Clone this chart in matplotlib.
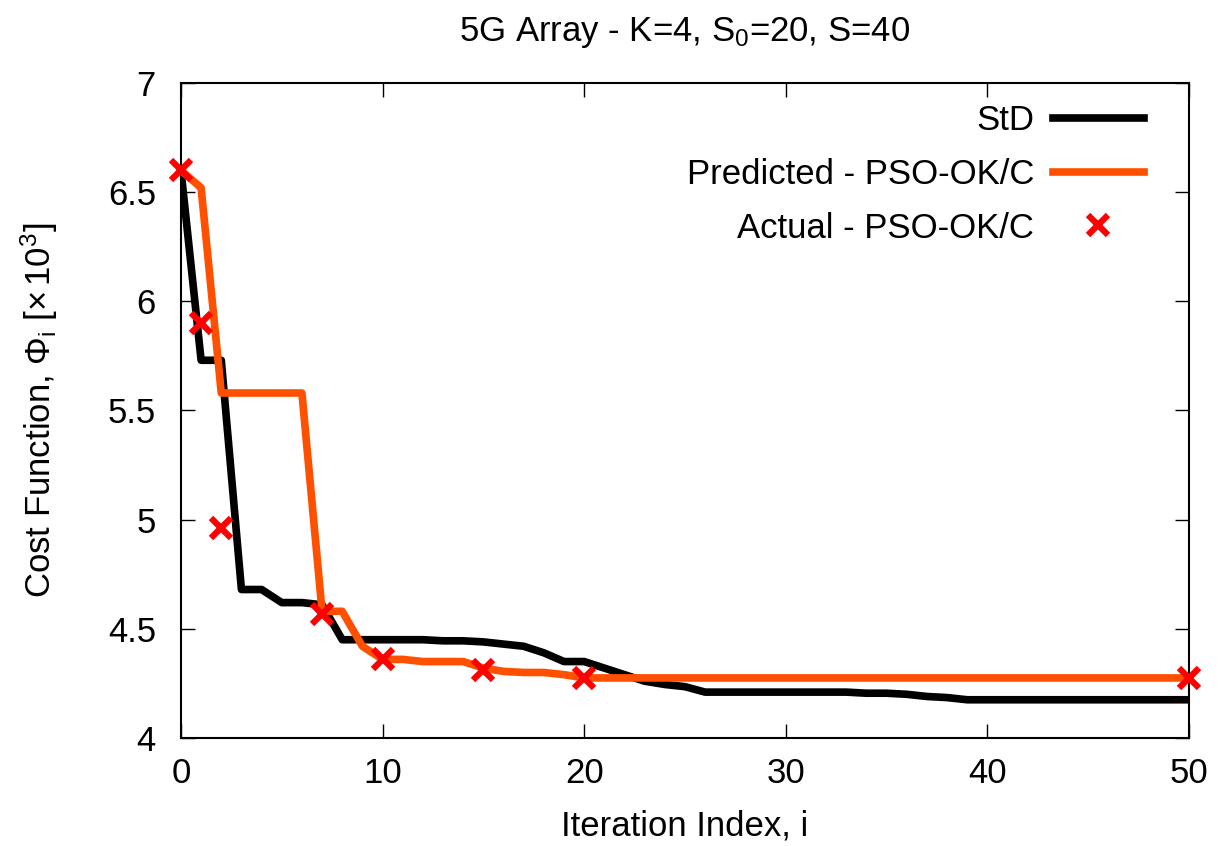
import matplotlib
matplotlib.use("Agg")
import matplotlib.pyplot as plt

# data
iters = list(range(0, 51))
std_cost = [6.60, 5.73, 5.73, 4.68, 4.68, 4.62, 4.62, 4.61, 4.45, 4.45,
            4.45, 4.45, 4.45, 4.445, 4.445, 4.44, 4.43, 4.42, 4.39, 4.35,
            4.35, 4.32, 4.29, 4.26, 4.245, 4.235, 4.21, 4.21, 4.21, 4.21,
            4.21, 4.21, 4.21, 4.21, 4.205, 4.205, 4.20, 4.19, 4.185, 4.175,
            4.175, 4.175, 4.175, 4.175, 4.175, 4.175, 4.175, 4.175, 4.175, 4.175,
            4.175]
pred_cost = [6.60, 6.52, 5.58, 5.58, 5.58, 5.58, 5.58, 4.58, 4.58, 4.42,
             4.36, 4.36, 4.35, 4.35, 4.35, 4.32, 4.305, 4.30, 4.30, 4.29] + [4.275] * 31
act_iters = [0, 1, 2, 7, 10, 15, 20, 50]
act_cost = [6.60, 5.90, 4.96, 4.57, 4.36, 4.31, 4.275, 4.275]

plt.rcParams['font.family'] = ['Liberation Sans', 'DejaVu Sans']
plt.rcParams['mathtext.fontset'] = 'custom'
plt.rcParams['mathtext.rm'] = 'Liberation Sans'
plt.rcParams['mathtext.it'] = 'Liberation Sans:italic'
plt.rcParams['mathtext.sf'] = 'Liberation Sans'

fs = 25

fig = plt.figure(figsize=(12.26, 8.46), dpi=100)
ax = fig.add_axes([0.1476, 0.1277, 0.8222, 0.7742])

ax.plot(iters, std_cost, color='black', lw=5.5, label='StD', zorder=2)
ax.plot(iters, pred_cost, color='#FF5000', lw=5.5, label='Predicted - PSO-OK/C', zorder=3)
ax.plot(act_iters, act_cost, ls='none', marker='x', ms=15, mew=4.5, color='#FF0000',
        label='Actual - PSO-OK/C', zorder=4, clip_on=False)

ax.set_xlim(0, 50)
ax.set_ylim(4, 7)
ax.set_xticks([0, 10, 20, 30, 40, 50])
ax.set_yticks([4, 4.5, 5, 5.5, 6, 6.5, 7])
ax.set_yticklabels(['4', '4.5', '5', '5.5', '6', '6.5', '7'])
ax.tick_params(direction='in', length=10, width=1, top=True, right=True,
               labelsize=fs)
ax.tick_params(axis='y', pad=18)
ax.tick_params(axis='x', pad=14)
for s in ax.spines.values():
    s.set_linewidth(1.5)

ax.set_xlabel('Iteration Index, i', fontsize=fs, labelpad=14)
ax.set_ylabel(r'Cost Function, $\Phi_{\rm i}$ [$\times\,10^3$]', fontsize=fs, labelpad=34)
ax.set_title(r'5G Array - K=4, S$_0$=20, S=40', fontsize=fs, pad=30)

ax.legend(loc='upper right', bbox_to_anchor=(0.955, 0.968), frameon=False,
          fontsize=fs, markerfirst=False, handlelength=2.6, handletextpad=0.55,
          labelspacing=0.6, borderpad=0, borderaxespad=0, numpoints=1)

fig.savefig('out.png', dpi=100)
